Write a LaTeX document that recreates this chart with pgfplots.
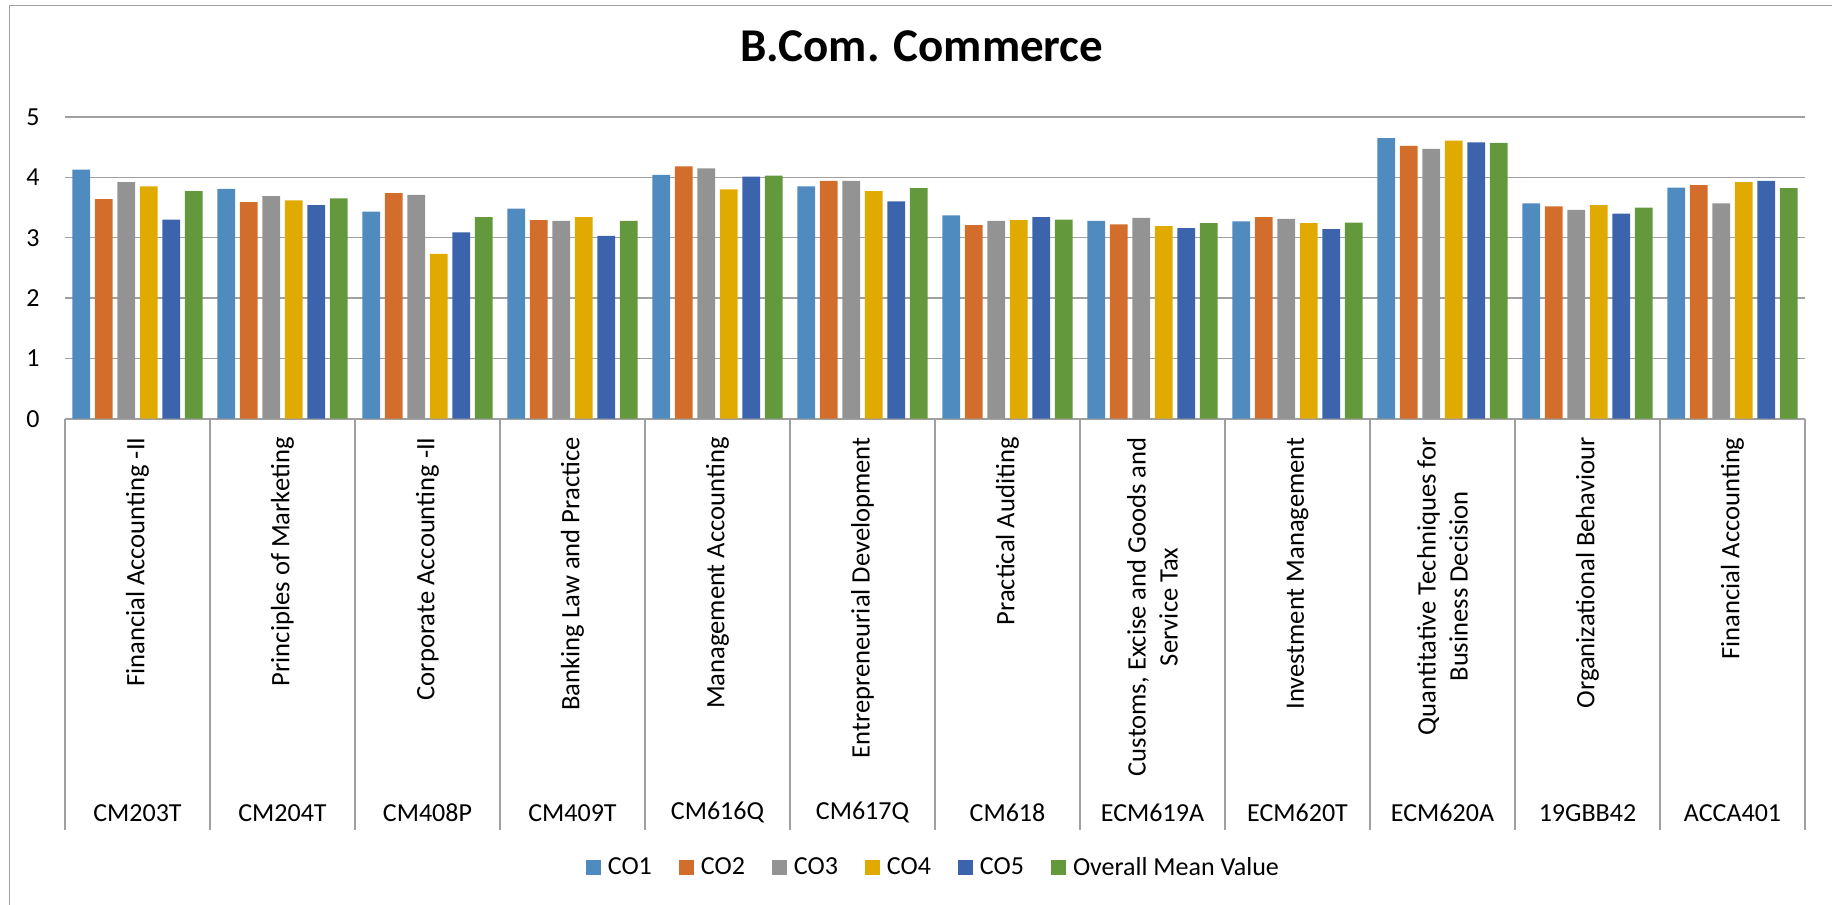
\documentclass[border=0pt]{standalone}
\usepackage{fontspec}
\setmainfont{Carlito}
\usepackage{pgfplots}
\usepackage{pgfplotstable}
\pgfplotsset{compat=1.18}
\definecolor{cA}{HTML}{4F8BBE}
\definecolor{cB}{HTML}{D36D2B}
\definecolor{cC}{HTML}{939393}
\definecolor{cD}{HTML}{E1AA00}
\definecolor{cE}{HTML}{3B64AD}
\definecolor{cF}{HTML}{63983D}
\definecolor{gridc}{HTML}{A0A0A0}
\pgfplotstableread{
x CO1 CO2 CO3 CO4 CO5 Mean
0 4.13 3.64 3.92 3.85 3.30 3.77
1 3.81 3.59 3.69 3.62 3.54 3.65
2 3.43 3.74 3.71 2.73 3.09 3.34
3 3.48 3.29 3.28 3.34 3.03 3.28
4 4.04 4.18 4.15 3.80 4.01 4.03
5 3.85 3.94 3.94 3.77 3.60 3.82
6 3.37 3.21 3.28 3.29 3.34 3.30
7 3.28 3.22 3.33 3.19 3.16 3.24
8 3.27 3.34 3.31 3.24 3.14 3.25
9 4.65 4.52 4.47 4.61 4.58 4.57
10 3.57 3.52 3.46 3.54 3.40 3.50
11 3.83 3.87 3.57 3.92 3.94 3.82
}\data
\begin{document}
\begin{tikzpicture}
\path[use as bounding box] (-32.5pt,-243.15pt) rectangle (883.5pt,209.35pt);
\draw[gridc, line width=0.7pt] (-27.85pt,-243.15pt) -- (-27.85pt,206.7pt) -- (883.5pt,206.7pt);
\begin{axis}[
  scale only axis,
  width=870pt, height=150.85pt,
  xmin=-0.5, xmax=11.5, ymin=0, ymax=5,
  ybar=2.35pt, bar width=8.9pt,
  axis x line*=bottom, axis y line*=left,
  x axis line style={-, draw=gridc, line width=0.8pt},
  y axis line style={draw=none},
  major tick length=0pt,
  xtick align=outside,
  xtick={0,...,11},
  xticklabels={{Financial Accounting -II},{Principles of Marketing},{Corporate Accounting -II},{Banking Law and Practice},{Management Accounting},{Entrepreneurial Development},{Practical Auditing},{Customs, Excise and Goods and\\Service Tax},{Investment Management},{Quantitative Techniques for\\Business Decision},{Organizational Behaviour},{Financial Accounting}},
  xticklabel style={font=\fontsize{13.3}{16}\selectfont, yshift=-9.15pt, rotate=90, anchor=east, inner sep=0pt, align=center},
  extra x ticks={0,...,11},
  extra x tick labels={CM203T,CM204T,CM408P,CM409T,CM616Q,CM617Q,CM618,ECM619A,ECM620T,ECM620A,19GBB42,ACCA401},
  extra x tick style={xticklabel style={rotate=-90, yshift=-187.85pt, anchor=center, font=\fontsize{13}{15}\selectfont}},
  minor xtick={-0.5,0.5,...,11.5},
  minor tick length=205.6pt,
  minor x tick style={draw=gridc, line width=0.7pt},
  ytick={0,...,5},
  ymajorgrids,
  grid style={draw=gridc, line width=0.7pt},
  yticklabel style={font=\fontsize{13}{15}\selectfont, inner sep=0pt, xshift=-12.5pt, /pgf/number format/assume math mode=true},
  title={B.Com. Commerce},
  title style={at={(0.4925,1.1956)}, anchor=center, font=\fontsize{23.5}{28}\selectfont\bfseries},
  legend columns=6,
  legend style={draw=none, at={(0.4985,-1.4876)}, anchor=center, font=\fontsize{13}{15}\selectfont,
    nodes={inner sep=0pt}, column sep=0pt,
    /tikz/every odd column/.append style={column sep=3.5pt},
    /tikz/every even column/.append style={column sep=13.5pt}},
  legend image code/.code={\fill[#1, draw=none] (0pt,-3.75pt) rectangle (7.5pt,3.75pt);},
]
\addplot[fill=cA, draw=none] table[x=x, y=CO1] {\data};
\addplot[fill=cB, draw=none] table[x=x, y=CO2] {\data};
\addplot[fill=cC, draw=none] table[x=x, y=CO3] {\data};
\addplot[fill=cD, draw=none] table[x=x, y=CO4] {\data};
\addplot[fill=cE, draw=none] table[x=x, y=CO5] {\data};
\addplot[fill=cF, draw=none] table[x=x, y=Mean] {\data};
\legend{CO1,CO2,CO3,CO4,CO5,Overall Mean Value}
\end{axis}
\end{tikzpicture}
\end{document}
